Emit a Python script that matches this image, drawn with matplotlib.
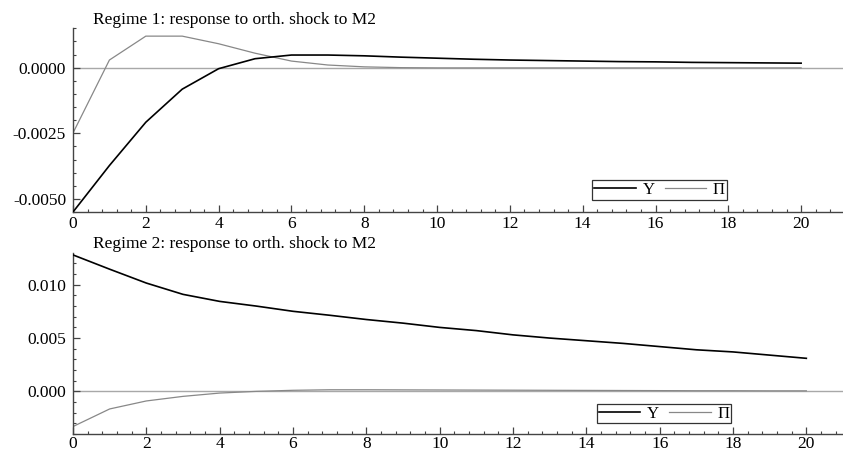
import matplotlib
matplotlib.use("Agg")
import matplotlib.pyplot as plt
from matplotlib.ticker import MultipleLocator, FormatStrFormatter
from matplotlib.lines import Line2D

horizon = list(range(21))

r1_Y = [-0.0055, -0.00373, -0.00208, -0.00082, -0.00004, 0.00034, 0.00048, 0.00048,
        0.00045, 0.00040, 0.00036, 0.00032, 0.00029, 0.00027, 0.00025, 0.00023,
        0.00022, 0.00020, 0.00019, 0.00018, 0.00017]
r1_Pi = [-0.00249, 0.00029, 0.00120, 0.00120, 0.00091, 0.00055, 0.00025, 0.00010,
         0.00003, 0.00000, -0.00001, -0.00001, -0.00001, -0.00001, -0.00001, -0.00001,
         -0.00001, -0.00001, -0.00001, -0.00001, -0.00001]

r2_Y = [0.0128, 0.01146, 0.01016, 0.0091, 0.00844, 0.0080, 0.00751, 0.00714,
        0.00674, 0.0064, 0.0060, 0.0057, 0.0053, 0.0050, 0.00475, 0.0045,
        0.0042, 0.0039, 0.0037, 0.0034, 0.0031]
r2_Pi = [-0.0033, -0.00165, -0.0009, -0.00047, -0.00016, 0.0, 0.0001, 0.00015,
         0.00015, 0.00014, 0.00013, 0.00012, 0.00011, 0.0001, 0.00009, 0.00008,
         0.00007, 0.00006, 0.00006, 0.00005, 0.00005]

titles = ["Regime 1: response to orth. shock to M2",
          "Regime 2: response to orth. shock to M2"]
series_names = ["Y", "\u03a0"]

plt.rcParams['font.family'] = ['Liberation Serif', 'DejaVu Serif']

W, H = 843, 455
fig = plt.figure(figsize=(W / 100, H / 100), dpi=100)

def px_axes(left, top, right, bottom):
    return fig.add_axes([left / W, 1 - bottom / H, (right - left) / W, (bottom - top) / H])

ax1 = px_axes(73, 28, 843, 212)
ax2 = px_axes(73, 253, 843, 434)

spine_col = '#444444'
configs = [
    (ax1, r1_Y, r1_Pi, (-0.0055, 0.00151), 0.0025, 0.0005, '%.4f', 21.15, (597, 181, 722, 199), titles[0], 20, 3.0),
    (ax2, r2_Y, r2_Pi, (-0.0040, 0.01298), 0.005, 0.001, '%.3f', 21.0, (602, 405, 726, 422), titles[1], 244, 1.2),
]

for ax, yv, pv, ylim, maj, mnr, fmt, xmax, legbox, title, ty, xpad in configs:
    ax.axhline(0, color='#a8a8a8', lw=1.0, zorder=1)
    ax.plot(horizon, yv, color='black', lw=1.2, zorder=3)
    ax.plot(horizon, pv, color='#888888', lw=0.9, zorder=2)
    ax.set_xlim(0, xmax)
    ax.set_ylim(*ylim)
    for s in ['top', 'right']:
        ax.spines[s].set_visible(False)
    for s in ['left', 'bottom']:
        ax.spines[s].set_color(spine_col)
        ax.spines[s].set_linewidth(1.0)
    ax.xaxis.set_major_locator(MultipleLocator(2))
    ax.xaxis.set_minor_locator(MultipleLocator(0.4))
    ax.yaxis.set_major_locator(MultipleLocator(maj))
    ax.yaxis.set_minor_locator(MultipleLocator(mnr))
    ax.yaxis.set_major_formatter(FormatStrFormatter(fmt))
    ax.tick_params(which='both', direction='in', colors=spine_col, labelcolor='black',
                   labelsize=12.5)
    ax.tick_params(which='major', length=5, width=0.9)
    ax.tick_params(which='minor', length=2.5, width=0.8)
    ax.tick_params(axis='x', pad=xpad)
    ax.tick_params(axis='y', pad=5)
    ax.patch.set_alpha(0)

    # legend
    l, t, r, b = legbox
    handles = [Line2D([], [], color='black', lw=1.2), Line2D([], [], color='#888888', lw=0.9)]
    leg = ax.legend(handles, series_names, loc='center',
                    bbox_to_anchor=((l + r) / 2 / W, 1 - (t + b) / 2 / H),
                    bbox_transform=fig.transFigure, ncol=2, frameon=True,
                    fancybox=False, fontsize=12, handlelength=2.5, handletextpad=0.4,
                    columnspacing=0.6, borderpad=0.1, borderaxespad=0)
    leg.get_frame().set_edgecolor('black')
    leg.get_frame().set_linewidth(0.9)

    fig.text(93 / W, 1 - ty / H, title, ha='left', va='center', fontsize=12.5)

fig.savefig("out.png", dpi=100)
